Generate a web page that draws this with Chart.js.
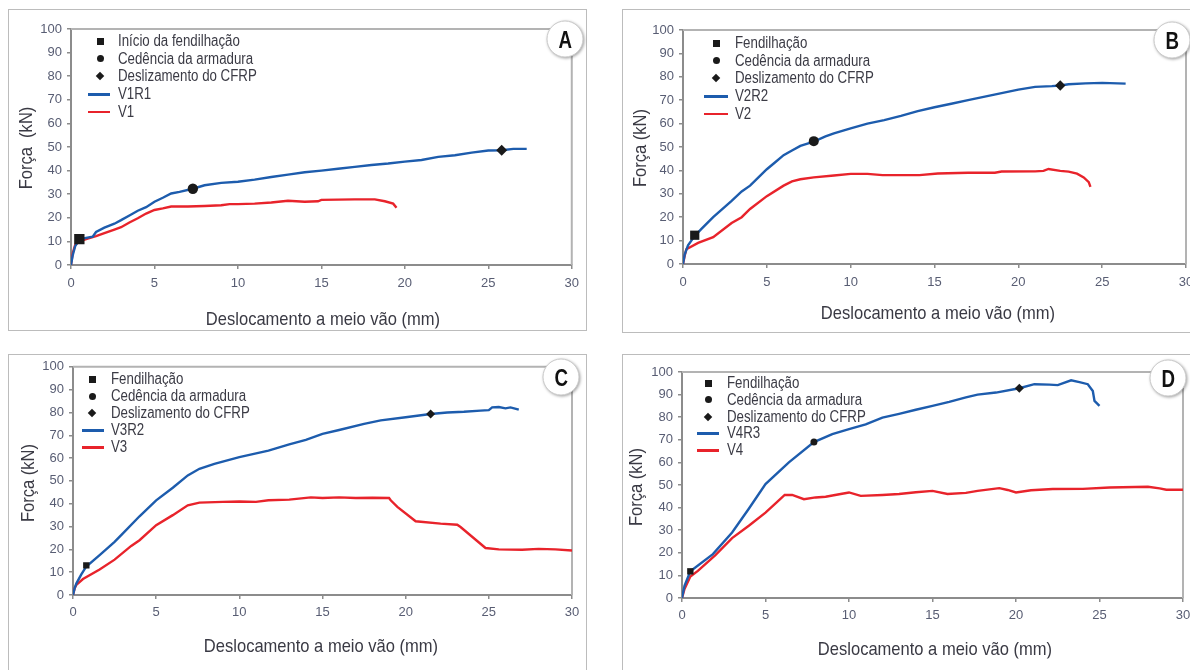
<!DOCTYPE html>
<html>
<head>
<meta charset="utf-8">
<script src="https://cdn.jsdelivr.net/npm/chart.js@4.4.1/dist/chart.umd.min.js"></script>
<style>
body{margin:0;background:#fff;width:1190px;height:670px;overflow:hidden;position:relative;
font-family:"Liberation Sans",Arial,sans-serif;color:#3b3b45}
.frame{position:absolute;border:1px solid #bcbcbc;box-sizing:border-box}
canvas{position:absolute}
.xtitle,.ytitle{position:absolute;font-size:19px;white-space:nowrap;color:#3a3a44;line-height:1}
.xtitle{transform:translate(-50%,-50%) scaleX(.87)}
.ytitle{transform:translate(-50%,-50%) rotate(-90deg) scaleX(.87)}
.legend{position:absolute;font-size:16px;color:#3b3b45}
.row{position:absolute;white-space:nowrap;line-height:1;transform:translateY(-50%) scaleX(.83);transform-origin:0 50%}
.mk{position:absolute;background:#1a1a1a}
.badge{position:absolute;width:35px;height:35px;border-radius:50%;background:#fff;border:1.5px solid #c9c9c9;
box-shadow:1px 1px 3px rgba(0,0,0,.35);transform:translate(-50%,-50%);text-align:center;line-height:35px;
font-weight:bold;font-size:24px;color:#111}
.badge span{display:inline-block;transform:scaleX(.78)}
</style>
</head>
<body>

<div class="frame" style="left:8px;top:9px;width:579px;height:322px"></div>
<div class="frame" style="left:622px;top:9px;width:580px;height:324px"></div>
<div class="frame" style="left:8px;top:354px;width:579px;height:330px"></div>
<div class="frame" style="left:622px;top:354px;width:580px;height:330px"></div>

<canvas id="chartA" width="577" height="321" style="left:9px;top:9px"></canvas>
<canvas id="chartB" width="600" height="323" style="left:622px;top:9px"></canvas>
<canvas id="chartC" width="578" height="316" style="left:8px;top:354px"></canvas>
<canvas id="chartD" width="600" height="316" style="left:622px;top:354px"></canvas>

<script>
// ==============================
// Força x deslocamento - vigas V1..V4
// ==============================

const xTicks = [0,5,10,15,20,25,30]
const yTicks = [0,10,20,30,40,50,60,70,80,90,100]

const markerNames = ["Fendilhação","Cedência da armadura","Deslizamento do CFRP"]

// Painel A

const dispV1R1 = [0,0.1,0.25,0.5,0.9,1.3,1.5,2,2.6,3,3.5,4,4.5,5,5.5,6,6.5,7.3,8,9,10,11,12,13,14,15,16,17,18,19,20,21,22,23,24,25,25.8,26.5,27.3]
const forceV1R1 = [0,4,8,10.8,11.5,12,14,15.8,17.5,19,21,23,24.5,26.8,28.5,30.3,31,32.3,33.8,34.8,35.3,36.2,37.3,38.3,39.3,40,40.8,41.6,42.4,43,43.8,44.5,45.8,46.5,47.6,48.5,48.6,49.2,49.2]

const dispV1 = [0,0.1,0.25,0.5,1,1.5,2,2.6,3,3.5,4,4.5,5,5.5,6,7,8,9,9.5,10,11,12,13,14,14.8,15,16,17,18.2,18.8,19.3,19.5]
const forceV1 = [0,5,8.5,10,11.2,12.2,13.5,15,16,18,19.8,21.8,23.3,24,24.8,24.8,25,25.3,25.8,25.8,26,26.5,27.2,26.8,27,27.6,27.7,27.8,27.8,27,26,24.3]

const markA_x = [0.5,7.3,25.8]
const markA_y = [11,32.3,48.6]

// Painel B

const dispV2R2 = [0,0.1,0.3,0.7,1.1,1.8,2.9,3.5,4,4.5,5,5.5,6,6.5,7,7.8,8.5,9,10,11,12,13,14,15,16,17,18,19,20,21,22,22.5,23,24,25,26.4]
const forceV2R2 = [0,4,8,12,15,20,27,31,33.5,37,40.5,43.5,46.5,48.5,50.5,52.3,54.5,55.8,58,60,61.5,63.3,65.3,67,68.5,70,71.5,73,74.5,75.7,76,76.3,76.8,77.2,77.4,77.1]

const dispV2 = [0,0.1,0.2,0.9,1.8,2.9,3.5,4,5,6,6.5,7,7.8,9,10,11,11.9,13,14.1,15.2,17,18.6,19,21,21.5,21.8,22.5,23,23.5,23.9,24.2,24.3]
const forceV2 = [0,3.5,6.3,9,11.5,17.5,20,23.5,29,33.5,35.3,36.2,37,37.8,38.5,38.5,38,38,38,38.7,39,39,39.5,39.6,39.8,40.6,39.8,39.5,38.6,37,35,33]

const markB_x = [0.7,7.8,22.5]
const markB_y = [12.3,52.5,76.3]

// Painel C

const dispV3R2 = [0,0.1,0.2,0.5,0.8,1.6,2.5,3,4,5,6,6.9,7.6,8.5,10,11.75,13,14,15,16,17.5,18.5,20,21.5,22.5,23.5,24.5,25,25.2,25.6,26,26.3,26.8]
const forceV3R2 = [0,3,5,9,12.5,17.5,23.3,27,34.5,41.5,47,52.4,55.3,57.5,60.4,63.3,66,68,70.6,72.3,75,76.5,77.9,79.3,80,80.3,80.8,81,82.2,82.4,81.8,82.2,81.2]

const dispV3 = [0,0.1,0.2,0.6,1.6,2.5,3.5,4,5,6,6.9,7.6,9,10,11,11.75,13,14.3,15,16,17,18,19,19.1,19.5,20.6,22.1,23.1,23.3,24.8,25.6,27,28,29,30]
const forceV3 = [0,3,4.4,7,11.2,15.5,21.5,24,30.6,35,39.3,40.5,40.8,41,40.8,41.5,41.8,42.8,42.5,42.8,42.5,42.6,42.5,41.5,38.6,32.3,31.3,30.8,29.8,20.6,20,19.8,20.2,20,19.5]

const markC_x = [0.8,null,21.5]
const markC_y = [13,null,79.3]

// Painel D

const dispV4R3 = [0,0.15,0.5,1.85,3,4,5,6.4,7.9,9,10,11,12,13,14,15,16,17,17.7,18.8,20.2,21.1,22,22.5,23.3,23.8,24.3,24.6,24.7,25]
const forceV4R3 = [0,5.4,11.8,19.4,29,39.5,50.4,60,69,72.5,74.7,76.8,79.8,81.5,83.3,85,86.8,88.8,90,90.9,92.8,94.6,94.4,94.2,96.3,95.5,94.6,91.6,87.2,85]

const dispV4 = [0,0.15,0.5,0.95,2,3,4,5,5.7,6.15,6.6,7.3,8,8.6,9.5,10,10.7,12,13,14,15,15.9,17,17.7,19,19.5,20,20.9,22.2,24,25.6,27.9,28.6,29,30]
const forceV4 = [0,4,9.5,12,19,26.5,32,37.8,42.5,45.6,45.6,43.7,44.5,44.8,46,46.7,45.2,45.6,46,46.8,47.4,46,46.5,47.4,48.6,47.8,46.7,47.7,48.2,48.3,48.9,49.2,48.5,47.9,47.9]

const markD_x = [0.5,7.9,20.2]
const markD_y = [11.8,69,92.8]


const BLUE = "#1d5cad"
const RED = "#e8232b"
const FONT = '"Liberation Sans",Arial,sans-serif'


function zip(xs,ys){

return xs.map((x,i)=>({x:x,y:ys[i]}))

}


// linhas de cima e da direita do grafico

const framePlugin = {

id:"frameLines",

beforeDatasetsDraw(chart){

const a = chart.chartArea
const c = chart.ctx

c.save()
c.strokeStyle = "#b3b3b3"
c.lineWidth = 2
c.beginPath()
c.moveTo(a.left,a.top)
c.lineTo(a.right,a.top)
c.lineTo(a.right,a.bottom)
c.stroke()
c.restore()

}

}


function markerSet(x,y,style,r){

return {

data: x==null ? [] : [{x:x,y:y}],
pointStyle:style,
pointRadius:r,
pointBackgroundColor:"#1a1a1a",
pointBorderColor:"#1a1a1a",
pointBorderWidth:0,
showLine:false

}

}


function lineSet(xs,ys,color){

return {

data:zip(xs,ys),
showLine:true,
borderColor:color,
borderWidth:2.4,
pointRadius:0,
tension:0,
fill:false

}

}


function makeChart(id,p){

const datasets = [
markerSet(p.mx[0],p.my[0],"rect",p.size[0]),
markerSet(p.mx[1],p.my[1],"circle",p.size[1]),
markerSet(p.mx[2],p.my[2],"rectRot",p.size[2]),
lineSet(p.bx,p.by,BLUE),
lineSet(p.rx,p.ry,RED)
]

return new Chart(document.getElementById(id),{

type:"scatter",

data:{datasets:datasets},

options:{

responsive:false,
animation:false,
devicePixelRatio:1,

layout:{padding:{left:0,top:p.top,right:p.right,bottom:0}},

plugins:{
legend:{display:false},
tooltip:{enabled:false}
},

scales:{

x:{
type:"linear",
min:0,
max:30,
afterFit:s=>{ s.height = p.xh },
afterBuildTicks:s=>{ s.ticks = xTicks.map(v=>({value:v})) },
grid:{drawOnChartArea:false,tickLength:4,color:"#8c8c8c",lineWidth:1.5},
border:{color:"#8c8c8c",width:2},
ticks:{color:"#585d73",font:{family:FONT,size:13},padding:p.xpad,maxRotation:0,autoSkip:false}
},

y:{
type:"linear",
min:0,
max:100,
afterFit:s=>{ s.width = p.yw },
afterBuildTicks:s=>{ s.ticks = yTicks.map(v=>({value:v})) },
grid:{drawOnChartArea:false,tickLength:4,color:"#8c8c8c",lineWidth:1.5},
border:{color:"#8c8c8c",width:2},
ticks:{color:"#585d73",font:{family:FONT,size:13},padding:5,autoSkip:false}
}

}

},

plugins:[framePlugin]

})

}


// Legenda, titulos e letra do painel (texto em HTML)

function addText(p){

const body = document.body

const xt = document.createElement("div")
xt.className = "xtitle"
xt.style.left = p.xt[0]+"px"
xt.style.top = p.xt[1]+"px"
xt.textContent = "Deslocamento a meio vão (mm)"
body.appendChild(xt)

const yt = document.createElement("div")
yt.className = "ytitle"
yt.style.left = p.yt[0]+"px"
yt.style.top = p.yt[1]+"px"
yt.innerHTML = p.ylabel
body.appendChild(yt)

const labels = [p.first].concat(markerNames.slice(1)).concat(p.series)

const lg = document.createElement("div")
lg.className = "legend"
lg.style.left = p.lg[0]+"px"
lg.style.top = p.lg[1]+"px"

labels.forEach((t,i)=>{

const row = document.createElement("div")
row.className = "row"
row.style.left = p.lg[2]+"px"
row.style.top = (i*p.lg[3])+"px"
row.textContent = t
lg.appendChild(row)

const mk = document.createElement("div")
mk.className = "mk"

if(i<3){

const s = i==2 ? 6 : 7
mk.style.width = s+"px"
mk.style.height = s+"px"
mk.style.left = (-s/2)+"px"
mk.style.top = (i*p.lg[3]-s/2)+"px"
if(i==1) mk.style.borderRadius = "50%"
if(i==2) mk.style.transform = "rotate(45deg)"

}else{

mk.style.width = p.lg[4]+"px"
mk.style.height = "2.5px"
mk.style.left = p.lg[5]+"px"
mk.style.top = (i*p.lg[3]-1)+"px"
mk.style.background = i==3 ? BLUE : RED

}

lg.appendChild(mk)

})

body.appendChild(lg)

const b = document.createElement("div")
b.className = "badge"
b.style.left = p.badge[1]+"px"
b.style.top = p.badge[2]+"px"
b.innerHTML = "<span>"+p.badge[0]+"</span>"
body.appendChild(b)

}


const panels = [

{id:"chartA",bx:dispV1R1,by:forceV1R1,rx:dispV1,ry:forceV1,mx:markA_x,my:markA_y,
size:[7.3,5.2,5.5],top:20,right:10,xh:65,yw:62,xpad:7,
xt:[323,318],yt:[25,148],ylabel:"Força&nbsp;&nbsp;(kN)",
first:"Início da fendilhação",series:["V1R1","V1"],
lg:[100,41,18,17.7,22,-12],badge:["A",565,39]},

{id:"chartB",bx:dispV2R2,by:forceV2R2,rx:dispV2,ry:forceV2,mx:markB_x,my:markB_y,
size:[6.5,5,5.2],top:21,right:36,xh:68,yw:61,xpad:7,
xt:[938,312],yt:[639,148],ylabel:"Força (kN)",
first:"Fendilhação",series:["V2R2","V2"],
lg:[716,43,19,17.7,24,-12],badge:["B",1172,40]},

{id:"chartC",bx:dispV3R2,by:forceV3R2,rx:dispV3,ry:forceV3,mx:markC_x,my:markC_y,
size:[4.5,3.5,4.5],top:12,right:14,xh:75,yw:65,xpad:6,
xt:[321,645],yt:[27,483],ylabel:"Força (kN)",
first:"Fendilhação",series:["V3R2","V3"],
lg:[92,379,19,17,22,-10],badge:["C",561,377]},

{id:"chartD",bx:dispV4R3,by:forceV4R3,rx:dispV4,ry:forceV4,mx:markD_x,my:markD_y,
size:[4.5,3.5,4.5],top:18,right:39,xh:72,yw:60,xpad:6,
xt:[935,648],yt:[635,487],ylabel:"Força (kN)",
first:"Fendilhação",series:["V4R3","V4"],
lg:[708,383,19,16.8,22,-11],badge:["D",1168,378]}

]


document.addEventListener("DOMContentLoaded",()=>{

panels.forEach(p=>{

makeChart(p.id,p)
addText(p)

})

})
</script>
</body>
</html>
